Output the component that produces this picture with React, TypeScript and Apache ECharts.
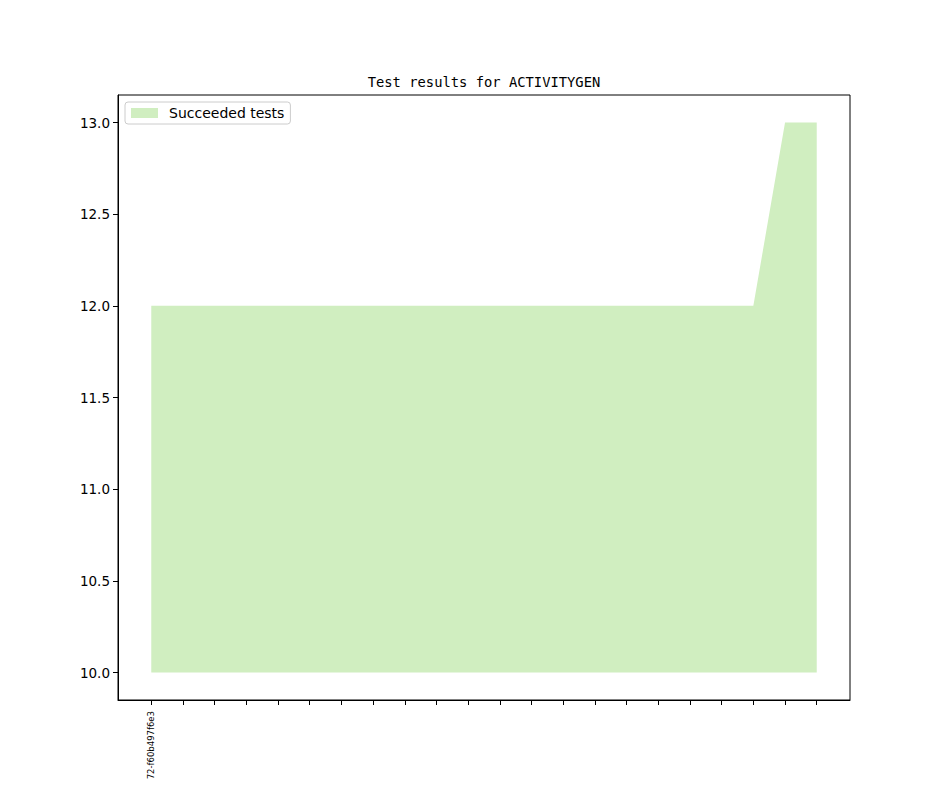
import React, { useEffect, useRef } from "react";
import * as echarts from "echarts";

const xLabels: string[] = [
  "72-f60b497f6e3", "", "", "", "", "", "", "", "", "", "",
  "", "", "", "", "", "", "", "", "", "", "",
];
const succeeded: number[] = [
  12, 12, 12, 12, 12, 12, 12, 12, 12, 12, 12,
  12, 12, 12, 12, 12, 12, 12, 12, 12, 13, 13,
];
const yTicks: number[] = [10, 10.5, 11, 11.5, 12, 12.5, 13];
const baseline = 10;
const title = "Test results for ACTIVITYGEN";
const seriesName = "Succeeded tests";

export default function App() {
  const ref = useRef<HTMLDivElement>(null);
  useEffect(() => {
    if (!ref.current) return;
    const chart = echarts.init(ref.current, null, { renderer: "svg" });
    const n = succeeded.length;
    const pad = (n - 1) * 0.05;
    const yMin = Math.min(baseline, ...succeeded);
    const yMax = Math.max(...succeeded);
    const yPad = (yMax - yMin) * 0.05;
    const xTickVals = xLabels.map((_, i) => i);
    chart.setOption({
      animation: false,
      backgroundColor: "#ffffff",
      title: {
        text: title,
        left: 479,
        textAlign: "center",
        top: 70,
        textStyle: {
          fontFamily: "DejaVu Sans Mono",
          fontSize: 13.8,
          fontWeight: "normal",
          color: "#000",
        },
      },
      legend: {
        left: 125,
        top: 102,
        orient: "vertical",
        icon: "rect",
        itemWidth: 27,
        itemHeight: 10,
        padding: [4, 6, 4, 6],
        borderColor: "#cccccc",
        borderWidth: 1,
        borderRadius: 3,
        backgroundColor: "#ffffff",
        textStyle: {
          fontFamily: "DejaVu Sans",
          fontSize: 14,
          color: "#000",
          padding: [0, 0, 0, 6],
        },
        data: [{ name: seriesName }],
      },
      grid: {
        left: 118,
        top: 95,
        right: 94,
        bottom: 87,
        show: true,
        borderColor: "#000",
        borderWidth: 1,
        backgroundColor: "transparent",
        containLabel: false,
      },
      xAxis: {
        type: "value",
        min: -pad,
        max: n - 1 + pad,
        splitLine: { show: false },
        axisLine: { show: true, onZero: false, lineStyle: { color: "#000" } },
        axisTick: {
          show: true,
          length: 5,
          lineStyle: { color: "#000" },
          customValues: xTickVals,
        },
        axisLabel: {
          show: true,
          rotate: 90,
          fontFamily: "DejaVu Sans",
          fontSize: 8.5,
          color: "#000",
          margin: 11,
          customValues: xTickVals,
          formatter: (v: number) => xLabels[Math.round(v)] ?? "",
        },
      },
      yAxis: {
        type: "value",
        min: yMin - yPad,
        max: yMax + yPad,
        splitLine: { show: false },
        axisLine: { show: true, onZero: false, lineStyle: { color: "#000" } },
        axisTick: {
          show: true,
          length: 5,
          lineStyle: { color: "#000" },
          customValues: yTicks,
        },
        axisLabel: {
          fontFamily: "DejaVu Sans",
          fontSize: 13.5,
          color: "#000",
          margin: 8,
          customValues: yTicks,
          formatter: (v: number) => v.toFixed(1),
        },
      },
      series: [
        {
          name: seriesName,
          type: "line",
          data: succeeded.map((v, i) => [i, v]),
          symbol: "none",
          color: "#d0eec0",
          lineStyle: { width: 0, color: "#d0eec0" },
          areaStyle: { color: "#d0eec0", opacity: 1, origin: baseline },
        },
      ],
    });
    return () => chart.dispose();
  }, []);
  return (
    <div
      ref={ref}
      style={{ position: "absolute", left: 0, top: 0, width: 944, height: 787 }}
    />
  );
}
